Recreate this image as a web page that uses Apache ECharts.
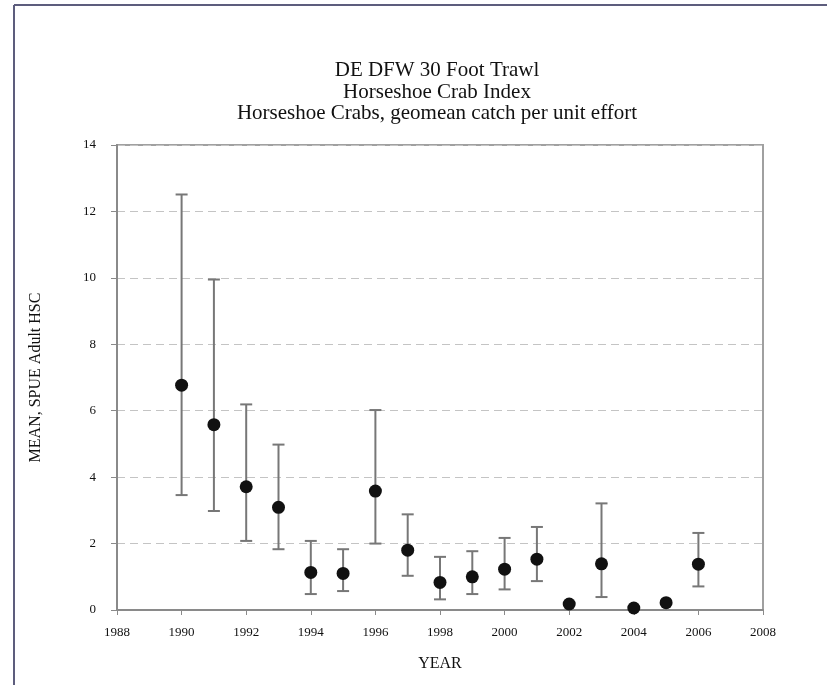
<!DOCTYPE html>
<html>
<head>
<meta charset="utf-8">
<script src="https://cdn.jsdelivr.net/npm/echarts@6/dist/echarts.min.js"></script>
<style>
  html, body { margin: 0; padding: 0; background: #fff; }
  #chart { width: 827px; height: 685px; }
</style>
</head>
<body>
<div id="chart"></div>
<script>
// 数据
var years = [1990, 1991, 1992, 1993, 1994, 1995, 1996, 1997, 1998, 1999, 2000, 2001, 2002, 2003, 2004, 2005, 2006];
var means = [6.77, 5.58, 3.71, 3.09, 1.13, 1.10, 3.58, 1.80, 0.83, 1.00, 1.23, 1.53, 0.18, 1.39, 0.06, 0.22, 1.38];
var upper = [12.51, 9.95, 6.19, 4.98, 2.08, 1.83, 6.02, 2.88, 1.60, 1.77, 2.17, 2.50, null, 3.21, null, null, 2.32];
var lower = [3.46, 2.98, 2.08, 1.83, 0.48, 0.57, 2.00, 1.03, 0.32, 0.48, 0.62, 0.87, null, 0.39, null, null, 0.71];

var titleLines = ['DE DFW 30 Foot Trawl', 'Horseshoe Crab Index', 'Horseshoe Crabs, geomean catch per unit effort'];
var font = 'Liberation Serif';

(function () {
  var myChart = echarts.init(document.getElementById('chart'));

  var errData = [];
  var pts = [];
  for (var i = 0; i < years.length; i++) {
    pts.push([years[i], means[i]]);
    if (upper[i] != null) errData.push([years[i], lower[i], upper[i]]);
  }

  var option = {
    backgroundColor: '#fff',
    animation: false,
    title: {
      text: titleLines.join('\n'),
      left: 432,
      textAlign: 'center',
      top: 55,
      textStyle: { fontFamily: font, fontSize: 21, fontWeight: 'normal', color: '#111', lineHeight: 21.5 }
    },
    // 外框
    graphic: [
      { type: 'line', shape: { x1: 14, y1: 5, x2: 827, y2: 5 }, style: { stroke: '#5d5d7d', lineWidth: 2 } },
      { type: 'line', shape: { x1: 14, y1: 5, x2: 14, y2: 685 }, style: { stroke: '#5d5d7d', lineWidth: 2 } }
    ],
    grid: {
      left: 117, right: 64, top: 145, bottom: 75,
      show: true, borderColor: '#a0a0a0', borderWidth: 2
    },
    xAxis: {
      type: 'value', min: 1988, max: 2008, interval: 2,
      name: 'YEAR', nameLocation: 'middle', nameGap: 46,
      nameTextStyle: { fontFamily: font, fontSize: 16, color: '#111' },
      axisLine: { lineStyle: { color: '#8a8a8a', width: 2 } },
      axisTick: { length: 5, lineStyle: { color: '#8a8a8a' } },
      axisLabel: { fontFamily: font, fontSize: 13, color: '#111', margin: 16, formatter: function (v) { return String(v); } },
      splitLine: { show: false }
    },
    yAxis: {
      type: 'value', min: 0, max: 14, interval: 2,
      name: 'MEAN, SPUE Adult HSC', nameLocation: 'middle', nameGap: 73,
      nameTextStyle: { fontFamily: font, fontSize: 16, color: '#111' },
      axisLine: { show: true, lineStyle: { color: '#8a8a8a', width: 2 } },
      axisTick: { show: true, length: 6, lineStyle: { color: '#8a8a8a' } },
      axisLabel: { fontFamily: font, fontSize: 13, color: '#111', margin: 21 },
      splitLine: { show: true, lineStyle: { color: '#c4c4c4', type: [8, 5] } }
    },
    series: [
      {
        // 误差线
        type: 'custom',
        data: errData,
        renderItem: function (params, api) {
          var lo = api.coord([api.value(0), api.value(1)]);
          var hi = api.coord([api.value(0), api.value(2)]);
          var hw = 6;
          var st = { stroke: '#777', lineWidth: 2 };
          return {
            type: 'group',
            children: [
              { type: 'line', shape: { x1: lo[0], y1: lo[1], x2: hi[0], y2: hi[1] }, style: st },
              { type: 'line', shape: { x1: hi[0] - hw, y1: hi[1], x2: hi[0] + hw, y2: hi[1] }, style: st },
              { type: 'line', shape: { x1: lo[0] - hw, y1: lo[1], x2: lo[0] + hw, y2: lo[1] }, style: st }
            ]
          };
        },
        z: 2
      },
      {
        type: 'scatter',
        data: pts,
        symbol: 'circle',
        symbolSize: 13,
        itemStyle: { color: '#111', opacity: 1 },
        z: 3
      }
    ]
  };
  myChart.setOption(option);
})();
</script>
</body>
</html>
